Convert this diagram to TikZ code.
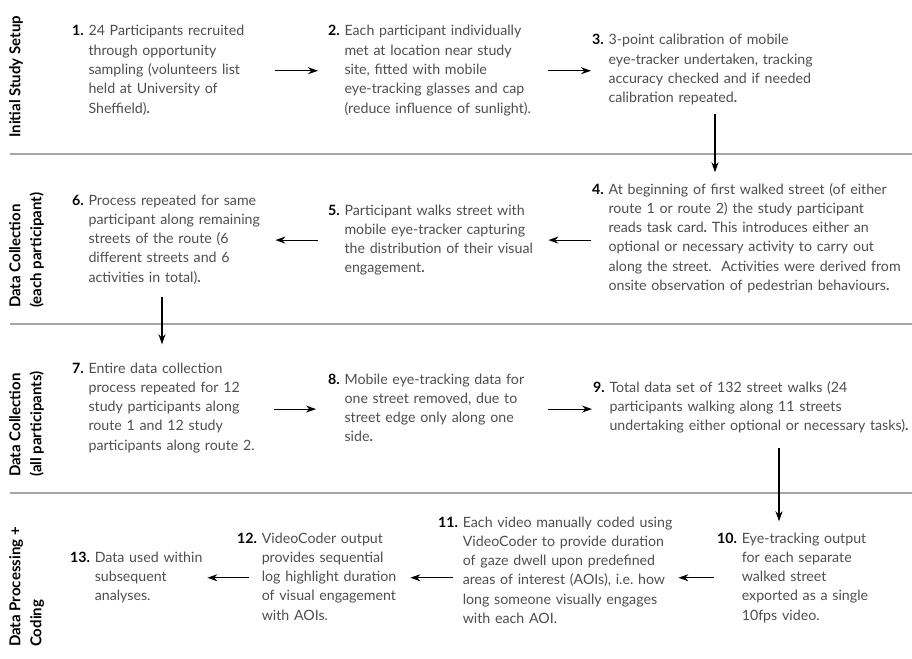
\documentclass[tikz,border=0pt]{standalone}
\usepackage{fontspec}
\setmainfont{Lato}
\usetikzlibrary{arrows.meta}
\definecolor{mygrey}{RGB}{78,78,78}
\definecolor{linegrey}{RGB}{165,165,165}
\frenchspacing

\newcommand{\stepitem}[2]{\mbox{\textcolor{black}{\bfseries #1}\ \begin{tabular}[t]{@{}l@{}}#2\end{tabular}}}

\tikzset{
	stepnode/.style={anchor=base west, inner sep=0pt, text width=#1, align=left, text=mygrey, font=\fontsize{14.2}{19.3}\selectfont},
	seclabel/.style={rotate=90, anchor=north west, inner sep=0pt, align=left, font=\fontsize{15}{21}\selectfont\bfseries},
	arr/.style={-{Stealth[length=10pt,width=7pt]}, line width=1.1pt},
	sepline/.style={draw=linegrey, line width=1.6pt}
}

\begin{document}
\begin{tikzpicture}[x=1pt, y=-1pt]

\useasboundingbox (0,0) rectangle (912,658);

%---------SECTION LINES-----------%
\foreach \y in {154,324,493}{
	\draw [sepline] (10,\y) -- (912,\y);
};

%---------SECTION LABELS-----------%
\node [seclabel] (sec1) at (9,138) {Initial Study Setup};
\node [seclabel] (sec2) at (9,308) {Data Collection\\(each participant)};
\node [seclabel] (sec3) at (9,477) {Data Collection\\(all participants)};
\node [seclabel] (sec4) at (9,647) {Data Processing +\\Coding};

%---------STEPS-----------%
\node [stepnode=198pt] (1) at (72,36) {\stepitem{1.}{24 Participants recruited\\ through opportunity\\ sampling (volunteers list\\ held at University of\\ Sheffield)\textbf{.}}};
\node [stepnode=215pt] (2) at (328,36) {\stepitem{2.}{Each participant individually\\ met at location near study\\ site, fitted with mobile\\ eye-tracking glasses and cap\\ (reduce influence of sunlight).}};
\node [stepnode=300pt] (3) at (592,45) {\stepitem{3.}{3-point calibration of mobile\\ eye-tracker undertaken, tracking\\ accuracy checked and if needed\\ calibration repeated\textbf{.}}};
\node [stepnode=318pt] (4) at (592,194) {\stepitem{4.}{At beginning of first walked street (of either\\ route 1 or route 2) the study participant\\ reads task card\textbf{.} This introduces either an\\ optional or necessary activity to carry out\\ along the street.\ \ Activities were derived from\\ onsite observation of pedestrian behaviours\textbf{.}}};
\node [stepnode=215pt] (5) at (328,215) {\stepitem{5.}{Participant walks street with\\ mobile eye-tracker capturing\\ the distribution of their visual\\ engagement\textbf{.}}};
\node [stepnode=198pt] (6) at (72,205) {\stepitem{6.}{Process repeated for same\\ participant along remaining\\ streets of the route (6\\ different streets and 6\\ activities in total)\textbf{.}}};
\node [stepnode=198pt] (7) at (72,373) {\stepitem{7.}{Entire data collection\\ process repeated for 12\\ study participants along\\ route 1 and 12 study\\ participants along route 2.}};
\node [stepnode=215pt] (8) at (328,384) {\stepitem{8.}{Mobile eye-tracking data for\\ one street removed, due to\\ street edge only along one\\ side\textbf{.}}};
\node [stepnode=318pt] (9) at (593,392) {\stepitem{9.}{Total data set of 132 street walks (24\\ participants walking along 11 streets\\ undertaking either optional or necessary tasks)\textbf{.}}};
\node [stepnode=190pt] (10) at (717,543) {\stepitem{10.}{Eye-tracking output\\ for each separate\\ walked street\\ exported as a single\\ 10fps video.}};
\node [stepnode=235pt] (11) at (438,527) {\stepitem{11.}{Each video manually coded using\\ VideoCoder to provide duration\\ of gaze dwell upon predefined\\ areas of interest (AOIs), i.e. how\\ long someone visually engages\\ with each AOI.}};
\node [stepnode=168pt] (12) at (237,543) {\stepitem{12.}{VideoCoder output\\ provides sequential\\ log highlight duration\\ of visual engagement\\ with AOIs.}};
\node [stepnode=137pt] (13) at (70,562) {\stepitem{13.}{Data used within\\ subsequent\\ analyses.}};

%---------ARROWS-----------%
\draw [arr, shorten <=5pt, shorten >=10pt] (1.east) -- (1.east -| 2.west);
\draw [arr, shorten <=5pt, shorten >=1pt] (2.east) -- (2.east -| 3.west);
\draw [arr, shorten <=5pt, shorten >=8pt] ([xshift=123pt]3.south west) -- ([xshift=123pt]4.north west);
\draw [arr, shorten <=1pt, shorten >=5pt] (5.east -| 4.west) -- (5.east);
\draw [arr, shorten <=10pt, shorten >=5pt] (5.west) -- (5.west -| 6.east);
\draw [arr, shorten <=9pt, shorten >=15pt] ([xshift=90pt]6.south west) -- ([xshift=90pt]7.north west);
\draw [arr, shorten <=4pt, shorten >=12pt] (8.west -| 7.east) -- (8.west);
\draw [arr, shorten <=5pt, shorten >=1pt] (8.east) -- (8.east -| 9.west);
\draw [arr, shorten <=11pt, shorten >=8pt] ([xshift=186pt]9.south west) -- ([xshift=62pt]10.north west);
\draw [arr, shorten <=3pt, shorten >=5pt] (10.west) -- (10.west -| 11.east);
\draw [arr, shorten <=-15pt, shorten >=5pt] (12.east -| 11.west) -- (12.east);
\draw [arr, shorten <=-12pt, shorten >=0pt] (12.west) -- (12.west -| 13.east);

\end{tikzpicture}
\end{document}
